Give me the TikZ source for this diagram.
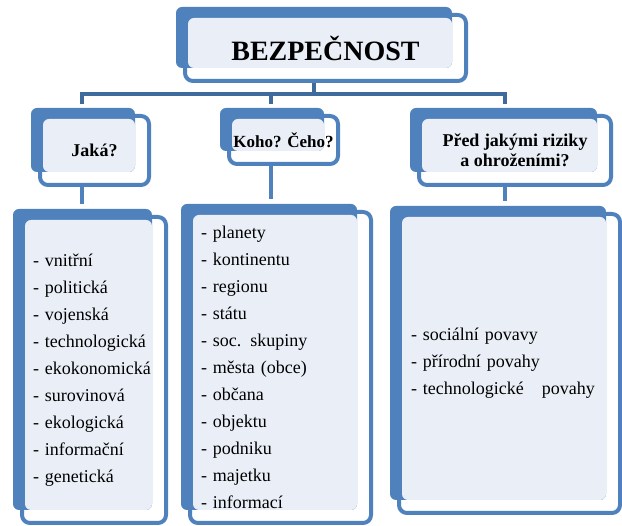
\documentclass[tikz,border=0pt]{standalone}
\usepackage{fontspec}
\setmainfont{Liberation Serif}
\usetikzlibrary{calc,backgrounds}
\definecolor{boxblue}{HTML}{4F81BD}
\definecolor{linkblue}{HTML}{3F6A9C}
\definecolor{boxface}{HTML}{EAEFF7}
\begin{document}
\begin{tikzpicture}[x=1pt, y=-1pt, line join=round,
	rim/.style={draw=boxblue, line width=4pt, rounded corners=8pt, outer sep=0pt, inner sep=2pt},
	head/.style={rim, font=\bfseries\fontsize{18}{20}\selectfont, align=center},
	list/.style={rim, font=\fontsize{18}{27}\selectfont, align=left, inner xsep=11pt},
	link/.style={draw=linkblue, line width=4pt},
	stem/.style={draw=boxblue, line width=4pt, shorten >=13pt}]
	\useasboundingbox (0,0) rectangle (622,526);
	% Hlavní pole
	\node[head, minimum width=281pt, minimum height=66pt, font=\bfseries\fontsize{28}{30}\selectfont] (bezp) at (325.5,48) {BEZPEČNOST};
	% Otázky
	\node[head, minimum width=109pt, minimum height=69pt] (jaka) at (94.5,150.5) {Jaká?};
	\node[head, minimum width=109pt, minimum height=48pt, font=\bfseries\fontsize{17}{20}\selectfont] (koho) at (283.5,140) {Koho? Čeho?};
	\node[head, minimum width=192pt, minimum height=69pt] (pred) at (515,150.5) {Před jakými riziky\\a ohroženími?};
	% Výčty
	\node[list, minimum width=144pt, minimum height=306pt, text width=122pt] (typy) at (94,370)
		{- vnitřní\\- politická\\- vojenská\\- technologická\\- ekokonomická\\- surovinová\\- ekologická\\- informační\\- genetická};
	\node[list, minimum width=181pt, minimum height=311pt, text width=159pt] (objekty) at (280.5,367.5)
		{- planety\\- kontinentu\\- regionu\\- státu\\- soc. skupiny\\- města (obce)\\- občana\\- objektu\\- podniku\\- majetku\\- informací};
	\node[list, minimum width=219pt, minimum height=299pt, text width=197pt, inner xsep=12pt] (rizika) at (509.5,363.5)
		{- sociální povavy\\- přírodní povahy\\- technologické\ \ \ povahy};
	\begin{scope}[on background layer]
		% Spojnice
		\coordinate (hubT) at (314,94.5);
		\coordinate (hubL) at (82,94.5);
		\coordinate (hubM) at (271,94.5);
		\coordinate (hubR) at (505,94.5);
		\draw[link] (bezp.south -| hubT) -- (hubT);
		\draw[link, shorten <=12pt, shorten >=12pt] (hubL |- jaka.north) -- (hubL) -- (hubR) -- (hubR |- pred.north);
		\draw[link, shorten >=12pt] (hubM) -- (hubM |- koho.north);
		\draw[stem] (jaka.south -| hubL) -- (typy.north -| hubL);
		\draw[stem] (koho.south -| hubM) -- (objekty.north -| hubM);
		\draw[stem] (pred.south -| hubR) -- (rizika.north -| hubR);
		% Modré podklady a světlé plochy
		\foreach \b in {bezp,jaka,koho,pred,typy,objekty,rizika} {
			\fill[boxblue, rounded corners=6pt] ($(\b.north west)+(-9,-8)$) rectangle ($(\b.south east)+(-14,-13)$);
			\fill[boxface, rounded corners=6pt] ($(\b.north west)+(3,3)$) rectangle ($(\b.south east)+(-14,-13)$);
		}
	\end{scope}
\end{tikzpicture}
\end{document}
